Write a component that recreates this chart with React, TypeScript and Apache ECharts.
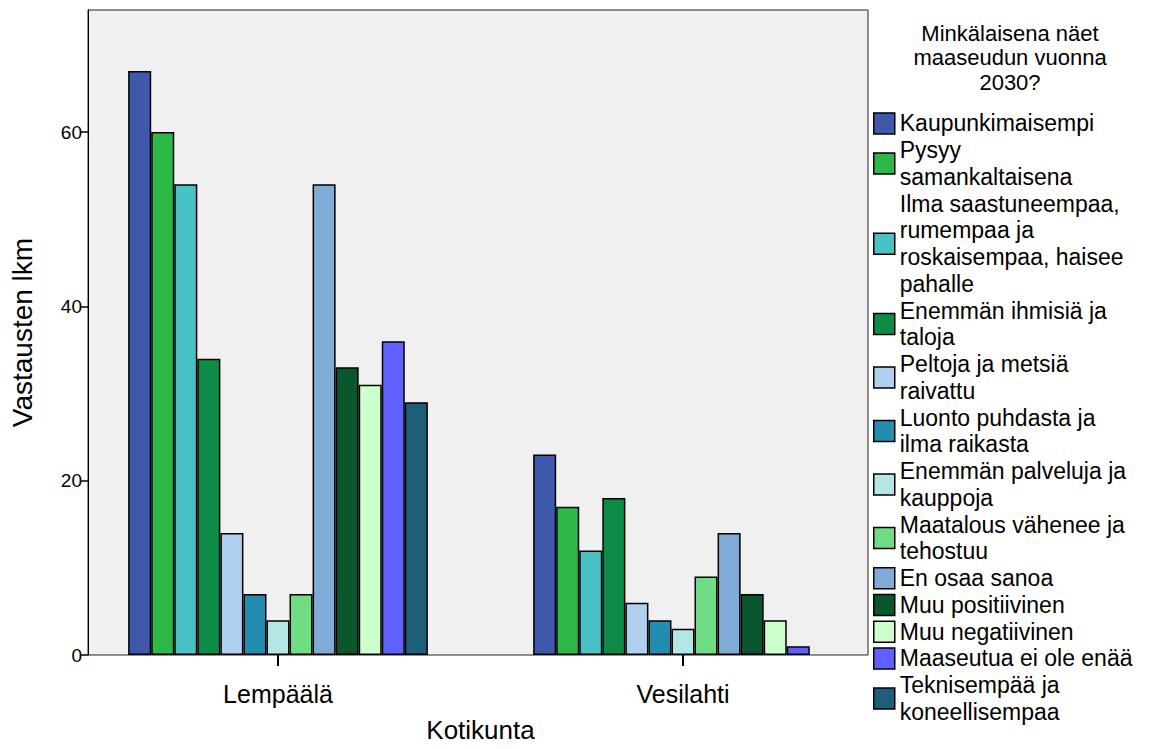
import React, { useEffect, useRef } from "react";
import * as echarts from "echarts";

const categories = ["Lempäälä", "Vesilahti"];
const seriesNames = [
  "Kaupunkimaisempi",
  "Pysyy samankaltaisena",
  "Ilma saastuneempaa, rumempaa ja roskaisempaa, haisee pahalle",
  "Enemmän ihmisiä ja taloja",
  "Peltoja ja metsiä raivattu",
  "Luonto puhdasta ja ilma raikasta",
  "Enemmän palveluja ja kauppoja",
  "Maatalous vähenee ja tehostuu",
  "En osaa sanoa",
  "Muu positiivinen",
  "Muu negatiivinen",
  "Maaseutua ei ole enää",
  "Teknisempää ja koneellisempaa",
];
const legendLabels = [
  "Kaupunkimaisempi",
  "Pysyy\nsamankaltaisena",
  "Ilma saastuneempaa,\nrumempaa ja\nroskaisempaa, haisee\npahalle",
  "Enemmän ihmisiä ja\ntaloja",
  "Peltoja ja metsiä\nraivattu",
  "Luonto puhdasta ja\nilma raikasta",
  "Enemmän palveluja ja\nkauppoja",
  "Maatalous vähenee ja\ntehostuu",
  "En osaa sanoa",
  "Muu positiivinen",
  "Muu negatiivinen",
  "Maaseutua ei ole enää",
  "Teknisempää ja\nkoneellisempaa",
];
const lempaalaValues = [67, 60, 54, 34, 14, 7, 4, 7, 54, 33, 31, 36, 29];
const vesilahtiValues = [23, 17, 12, 18, 6, 4, 3, 9, 14, 7, 4, 1, null];
const colors = [
  "#3e58ac",
  "#2eb848",
  "#48c2c5",
  "#0f8b48",
  "#aed0ee",
  "#248caf",
  "#b4e6e6",
  "#70dc84",
  "#7facd6",
  "#0a562d",
  "#ccffcc",
  "#6060ff",
  "#1d5f78",
];
const yTicks = [0, 20, 40, 60];
const legendTitle = "Minkälaisena näet\nmaaseudun vuonna\n2030?";

export default function App() {
  const ref = useRef<HTMLDivElement>(null);
  useEffect(() => {
    if (!ref.current) return;
    const chart = echarts.init(ref.current, null, { renderer: "svg" });
    const labelMap: Record<string, string> = {};
    seriesNames.forEach((n, i) => (labelMap[n] = legendLabels[i]));
    const font = "'Liberation Sans', Arial, sans-serif";
    chart.setOption({
      animation: false,
      textStyle: { fontFamily: font, color: "#000" },
      grid: {
        left: 75.5,
        top: 10,
        width: 810,
        height: 645,
        show: false,
        outerBoundsMode: "none",
        containLabel: false,
      },
      graphic: [
        {
          type: "rect",
          z: -10,
          shape: { x: 88, y: 10, width: 780, height: 645 },
          style: { fill: "#f0f0f0", stroke: "#222", lineWidth: 1 },
          silent: true,
        },
        {
          type: "text",
          x: 1010,
          y: 21,
          style: {
            text: legendTitle,
            textAlign: "center",
            fontFamily: font,
            fontSize: 22,
            lineHeight: 24.5,
            fill: "#000",
          },
        },
      ],
      legend: {
        orient: "vertical",
        left: 868,
        top: 105,
        itemGap: 0,
        itemWidth: 21,
        itemHeight: 21,
        itemTextGap: 6,
        icon: "rect",
        data: seriesNames,
        formatter: (n: string) => labelMap[n] || n,
        textStyle: { fontFamily: font, fontSize: 23, lineHeight: 26.75, color: "#000" },
        itemStyle: { borderColor: "#000", borderWidth: 1.5 },
      },
      xAxis: {
        type: "category",
        data: categories,
        name: "Kotikunta",
        nameLocation: "middle",
        nameGap: 62,
        nameTextStyle: { fontFamily: font, fontSize: 26, color: "#000" },
        axisLine: { show: false },
        axisTick: { show: true, alignWithLabel: true, length: 11, lineStyle: { color: "#000", width: 2 } },
        axisLabel: { fontFamily: font, fontSize: 25, color: "#000", margin: 26 },
        splitLine: { show: false },
      },
      yAxis: {
        type: "value",
        min: 0,
        max: 74,
        interval: 20,
        offset: -12.5,
        name: "Vastausten lkm",
        nameLocation: "middle",
        nameGap: 52,
        nameTextStyle: { fontFamily: "'Liberation Sans Narrow', 'Arial Narrow', sans-serif", fontSize: 28, color: "#000" },
        axisLine: { show: true, lineStyle: { color: "#000", width: 1 } },
        axisTick: { show: true, length: 8, customValues: yTicks, lineStyle: { color: "#000", width: 1.5 } },
        axisLabel: {
          fontFamily: font,
          fontSize: 19,
          color: "#000",
          margin: 6,
          customValues: yTicks,
          formatter: (v: number) => String(v),
        },
        splitLine: { show: false },
      },
      series: seriesNames.map((name, i) => ({
        name,
        type: "bar",
        barGap: "0%",
        barCategoryGap: "26%",
        data: [lempaalaValues[i], vesilahtiValues[i]],
        itemStyle: { color: colors[i], borderColor: "#000", borderWidth: 1.5 },
        emphasis: { disabled: true },
      })),
    });
    return () => chart.dispose();
  }, []);
  return (
    <div
      ref={ref}
      style={{ position: "absolute", left: 0, top: 0, width: 1167, height: 749 }}
    />
  );
}
